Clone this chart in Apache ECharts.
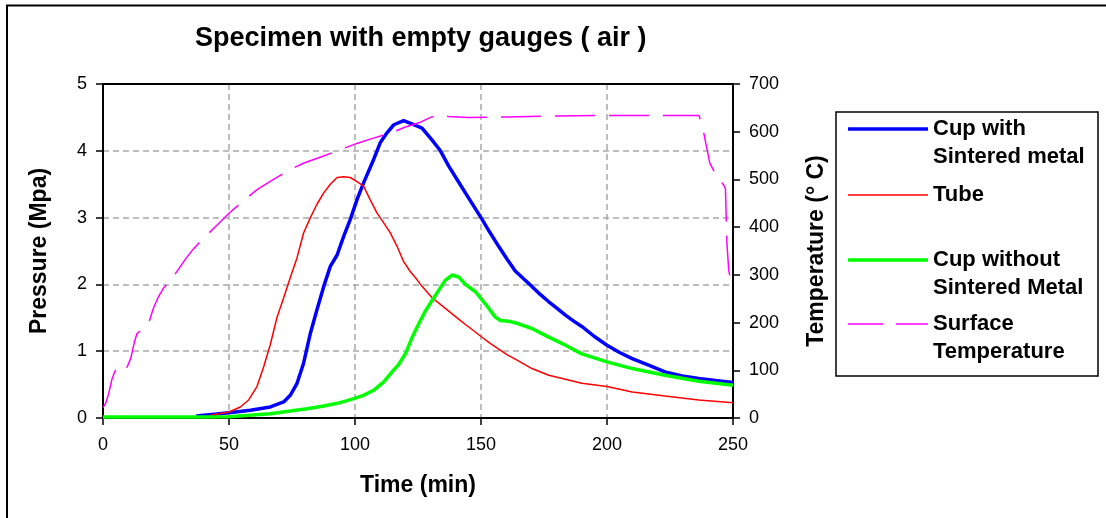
<!DOCTYPE html>
<html>
<head>
<meta charset="utf-8">
<script src="https://cdn.jsdelivr.net/npm/echarts@6/dist/echarts.min.js"></script>
<style>
html,body{margin:0;padding:0;background:#fff;}
#chart{width:1106px;height:518px;}
</style>
</head>
<body>
<div id="chart"></div>
<script>
// ---- Data ----
const titleText = 'Specimen with empty gauges ( air )';
const xAxisName = 'Time (min)';
const yLeftName = 'Pressure (Mpa)';
const yRightName = 'Temperature (° C)';
const seriesNames = ['Cup with Sintered metal', 'Tube', 'Cup without Sintered Metal', 'Surface Temperature'];
const legendLines = [['Cup with', 'Sintered metal'], ['Tube'], ['Cup without', 'Sintered Metal'], ['Surface', 'Temperature']];

const timeCupWith = [37,45,50,58.5,66.4,71.7,74.3,77,79.6,82.3,84.9,87.6,90.2,92.9,95.5,98.1,100.8,103.4,107.4,110,112.7,115.4,119.3,123.3,126.6,130.6,133.9,137.2,140.5,143.8,147,150,153.5,157,160.3,163.6,167,170.2,173.5,176.9,180.2,183.5,186.8,190,195,200,205,210,216.5,223,229.8,236.4,243,250];
const presCupWith = [0.03,0.06,0.08,0.115,0.165,0.24,0.34,0.52,0.82,1.27,1.62,1.97,2.27,2.44,2.72,2.97,3.27,3.52,3.87,4.12,4.27,4.39,4.45,4.39,4.34,4.16,4.0,3.77,3.57,3.37,3.18,3.0,2.78,2.57,2.38,2.2,2.08,1.97,1.85,1.74,1.64,1.54,1.45,1.37,1.22,1.09,0.98,0.89,0.79,0.69,0.63,0.59,0.56,0.53];

const timeTube = [42.6,50,54.5,57.8,61.1,63.8,66.4,69,71.7,74.3,77,79.6,82.3,84.9,87.6,90.2,92.9,95.5,98.1,100.8,103.4,106,108.7,111.4,114,116.7,119.3,122,124,126,130.6,133.9,137.2,140.5,143.8,147,150,153.5,157,160.3,163.6,170.2,176.9,183.5,190,200,210,223,236.4,250];
const presTube = [0.04,0.09,0.165,0.27,0.47,0.77,1.1,1.5,1.8,2.1,2.4,2.77,3.0,3.2,3.37,3.5,3.6,3.61,3.6,3.54,3.47,3.27,3.07,2.92,2.77,2.57,2.34,2.19,2.1,2.0,1.8,1.7,1.6,1.5,1.4,1.31,1.22,1.12,1.03,0.95,0.88,0.74,0.64,0.58,0.52,0.47,0.39,0.33,0.27,0.23];

const timeCupWithout = [0,20,40,50,58,66.4,74.3,81,87.6,94.2,99.5,103.4,107.4,111.4,115.3,117.3,120,122.6,125.3,127.9,130.6,133.2,135.8,138.5,141.2,143.8,147.8,151.7,155.7,157.7,161,164.9,170.2,176.9,183.5,190,200,210,223,236.4,250];
const presCupWithout = [0.015,0.015,0.015,0.02,0.04,0.065,0.105,0.14,0.18,0.23,0.29,0.34,0.415,0.54,0.715,0.8,0.96,1.2,1.41,1.6,1.76,1.91,2.06,2.14,2.11,2.0,1.89,1.71,1.51,1.46,1.45,1.41,1.34,1.21,1.09,0.96,0.84,0.74,0.64,0.55,0.49];

const timeSurface = [0,1,2.2,3.5,4.5,6,7,8.5,9.5,11,12.5,13.5,15,17,18.5,20,22,24,27,30,33,36,40,45,50,55,61,67,74,80,87,94,101,107,114,120,126,130,134,137,145,160,180,200,220,236.5,238,240.8,243.6,246.2,247,247.3,247.6,248.3,249.6];
const tempSurface = [22,30,50,80,95,110,112,108,106,125,160,177,183,191,205,230,254,272,290,312,335,355,377,403,429,452,478,498,520,535,548,562,576,586,597,610,620,630,636,632,630,631,633,634,634,634,608,534,506,489,481,422,366,310,275];

const xTicks = {min: 0, max: 250, interval: 50};
const yLeftTicks = {min: 0, max: 5, interval: 1};
const yRightTicks = {min: 0, max: 700, interval: 100};

// ---- Build chart ----
const FONT = '"Liberation Sans", Arial, sans-serif';
const pairs = (xs, ys) => xs.map((x, i) => [x, ys[i]]);
const colors = ['#0000ff', '#ff0000', '#00ff00', '#ff00ff'];
const widths = [3.5, 1.5, 3.5, 1.5];

const chart = echarts.init(document.getElementById('chart'), null, {renderer: 'canvas'});

const gridLine = {show: true, lineStyle: {color: '#a8a8a8', type: [6, 4], width: 1.5}};
const axisLineBlack = {show: true, onZero: false, lineStyle: {color: '#000', width: 2}};
const tickStyle = {show: true, length: 7, inside: false, lineStyle: {color: '#000', width: 1.5}};
const labelStyle = {color: '#000', fontSize: 18, fontFamily: FONT};
const nameStyle = {color: '#000', fontSize: 23, fontWeight: 'bold', fontFamily: FONT};

// Legend drawn as graphic elements
const legendX = 836, legendY = 112, legendW = 262, legendH = 264;
const legendRowY = [129, 195, 260, 324];
const legendGraphics = [{
  type: 'rect', shape: {x: legendX, y: legendY, width: legendW, height: legendH},
  style: {fill: '#fff', stroke: '#000', lineWidth: 1.5}, z: 10
}];
legendRowY.forEach((y, i) => {
  legendGraphics.push({
    type: 'line', shape: {x1: 848, y1: y, x2: 928, y2: y},
    style: {stroke: colors[i], lineWidth: widths[i], lineDash: i === 3 ? [35, 13] : null}, z: 11
  });
  legendLines[i].forEach((t, j) => {
    legendGraphics.push({
      type: 'text', x: 933, y: y + j * 28,
      style: {text: t, fill: '#000', font: 'bold 22px ' + FONT, textVerticalAlign: 'middle', textAlign: 'left'}, z: 11
    });
  });
});

const option = {
  backgroundColor: '#fff',
  animation: false,
  title: {
    text: titleText, left: 195, top: 25, padding: 0,
    textStyle: {color: '#000', fontSize: 27, fontWeight: 'bold', fontFamily: FONT}
  },
  grid: {left: 103, right: 373, top: 84, bottom: 100, show: true, borderColor: '#000', borderWidth: 2, backgroundColor: '#fff', containLabel: false},
  xAxis: [{
    type: 'value', min: xTicks.min, max: xTicks.max, interval: xTicks.interval, position: 'bottom',
    name: xAxisName, nameLocation: 'middle', nameGap: 56, nameTextStyle: nameStyle,
    axisLine: axisLineBlack, axisTick: tickStyle,
    axisLabel: Object.assign({margin: 18}, labelStyle),
    splitLine: gridLine
  }, {
    type: 'value', min: xTicks.min, max: xTicks.max, interval: xTicks.interval, position: 'top',
    axisLine: axisLineBlack, axisTick: {show: false}, axisLabel: {show: false}, splitLine: {show: false}
  }],
  yAxis: [{
    type: 'value', min: yLeftTicks.min, max: yLeftTicks.max, interval: yLeftTicks.interval, position: 'left',
    name: yLeftName, nameLocation: 'middle', nameGap: 52, nameRotate: 90, nameTextStyle: nameStyle,
    axisLine: axisLineBlack, axisTick: tickStyle,
    axisLabel: Object.assign({margin: 16}, labelStyle),
    splitLine: gridLine
  }, {
    type: 'value', min: yRightTicks.min, max: yRightTicks.max, interval: yRightTicks.interval, position: 'right',
    name: yRightName, nameLocation: 'middle', nameGap: 72, nameRotate: 90, nameTextStyle: nameStyle,
    axisLine: axisLineBlack, axisTick: tickStyle,
    axisLabel: Object.assign({margin: 16}, labelStyle),
    splitLine: {show: false}
  }],
  series: [
    {name: seriesNames[0], type: 'line', yAxisIndex: 0, data: pairs(timeCupWith, presCupWith)},
    {name: seriesNames[1], type: 'line', yAxisIndex: 0, data: pairs(timeTube, presTube)},
    {name: seriesNames[2], type: 'line', yAxisIndex: 0, data: pairs(timeCupWithout, presCupWithout)},
    {name: seriesNames[3], type: 'line', yAxisIndex: 1, data: pairs(timeSurface, tempSurface)}
  ].map((s, i) => Object.assign(s, {
    xAxisIndex: 0,
    showSymbol: false, symbol: 'none', smooth: false, clip: true,
    lineStyle: {color: colors[i], width: widths[i], type: i === 3 ? [40, 14] : 'solid'},
    itemStyle: {color: colors[i]}
  })),
  graphic: [{
    type: 'polyline', shape: {points: [[7, 518], [7, 5.5], [1106, 5.5]]},
    style: {stroke: '#000', lineWidth: 2, fill: null}, z: 20
  }].concat(legendGraphics)
};
chart.setOption(option);
</script>
</body>
</html>
